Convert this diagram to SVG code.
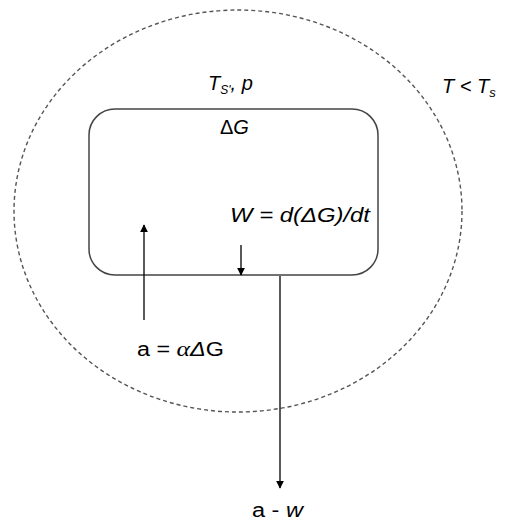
<svg xmlns="http://www.w3.org/2000/svg" width="506" height="520" viewBox="0 0 506 520">
<style>
.t{font-family:"Liberation Sans",Arial,sans-serif;font-size:20px;fill:#000}
.i{font-style:italic}
.conn{stroke:#000;stroke-width:1.3;fill:none}
</style>
<defs>
<marker id="ah" viewBox="0 0 10 10" refX="9" refY="5" markerWidth="8" markerHeight="8" markerUnits="userSpaceOnUse" orient="auto">
<path d="M0,0 L10,5 L0,10 z" fill="#000"/>
</marker>
</defs>
<rect width="506" height="520" fill="#fff"/>
<g id="surroundings">
<ellipse cx="238" cy="211" rx="224" ry="201" fill="none" stroke="#555" stroke-width="1.4" stroke-dasharray="4,3"/>
<text class="t i" x="442" y="93" font-size="21">T &lt; T<tspan font-size="13" dy="4">s</tspan></text>
</g>
<g id="system">
<rect x="89" y="109" width="289" height="166" rx="26" ry="26" fill="none" stroke="#444" stroke-width="1.5"/>
<text class="t i" x="208" y="90" font-size="21">T<tspan font-size="12" dy="4">S'</tspan><tspan dy="-4">, p</tspan></text>
<text class="t" x="220" y="134">Δ<tspan class="i">G</tspan></text>
<text class="t i" x="230" y="222" textLength="140" lengthAdjust="spacingAndGlyphs">W = d(ΔG)/dt</text>
</g>
<g id="connectors">
<line class="conn" x1="144" y1="320" x2="144" y2="225" marker-end="url(#ah)"/>
<line class="conn" x1="241" y1="245" x2="241" y2="275" marker-end="url(#ah)"/>
<line class="conn" x1="280" y1="276" x2="280" y2="488" marker-end="url(#ah)"/>
</g>
<g id="labels">
<text class="t" x="137" y="356" textLength="87" lengthAdjust="spacingAndGlyphs">a = <tspan font-family="'Liberation Serif',serif" font-style="italic" font-size="22">α</tspan><tspan class="i">Δ</tspan>G</text>
<text class="t" x="252" y="517" textLength="51" lengthAdjust="spacingAndGlyphs">a - <tspan class="i">w</tspan></text>
</g>
</svg>
